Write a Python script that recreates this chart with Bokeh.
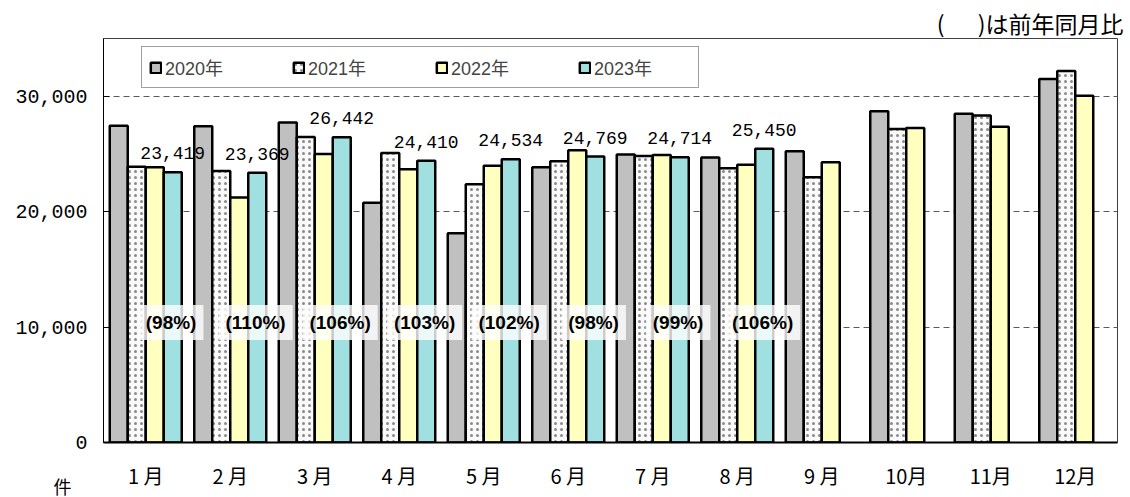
from bokeh.plotting import figure
from bokeh.models import (ColumnDataSource, FactorRange, Range1d, FixedTicker,
                          NumeralTickFormatter, LabelSet, Label, Legend, LegendItem, Title)
from bokeh.core.properties import value
from bokeh.transform import dodge
from bokeh.embed import file_html
from bokeh.resources import INLINE

# ---------------- data ----------------
months = ["1 月", "2 月", "3 月", "4 月", "5 月", "6 月", "7 月", "8 月", "9 月", "10月", "11月", "12月"]
v2020 = [27450, 27400, 27720, 20780, 18130, 23850, 24950, 24680, 25230, 28700, 28470, 31490]
v2021 = [23880, 23530, 26460, 25090, 22380, 24360, 24820, 23760, 22980, 27170, 28330, 32180]
v2022 = [23850, 21230, 25000, 23680, 23970, 25310, 24900, 24060, 24280, 27250, 27360, 30030]
v2023 = [23419, 23369, 26442, 24410, 24534, 24769, 24714, 25450]
yoy_pct = [98, 110, 106, 103, 102, 98, 99, 106]
series_names = ["2020年", "2021年", "2022年", "2023年"]
y_ticks = [0, 10000, 20000, 30000]

# ---------------- figure ----------------
p = figure(width=1130, height=497, x_range=FactorRange(*months, range_padding=0),
           y_range=Range1d(0, 35000), output_backend="svg", toolbar_location=None,
           min_border_left=103, min_border_right=13, min_border_top=38, min_border_bottom=55)
p.background_fill_color = "white"
p.border_fill_color = "white"
p.outline_line_color = "#404040"
p.outline_line_width = 1

bw = 0.213
offs = [-1.5 * bw, -0.5 * bw, 0.5 * bw, 1.5 * bw]

src = ColumnDataSource(dict(month=months, v2020=v2020, v2021=v2021, v2022=v2022))
src23 = ColumnDataSource(dict(month=months[:len(v2023)], v=v2023,
                              label=[f"{v:,}" for v in v2023]))

common = dict(width=bw, bottom=0, line_color="black", line_width=2.5)
r0 = p.vbar(x=dodge("month", offs[0], range=p.x_range), top="v2020", source=src,
            fill_color="#c0c0c0", **common)
r1 = p.vbar(x=dodge("month", offs[1], range=p.x_range), top="v2021", source=src,
            fill_color="#fafafa", hatch_pattern="dot", hatch_color="#8a8a8a",
            hatch_scale=6, hatch_weight=1.5, **common)
r2 = p.vbar(x=dodge("month", offs[2], range=p.x_range), top="v2022", source=src,
            fill_color="#ffffc0", **common)
r3 = p.vbar(x=dodge("month", offs[3], range=p.x_range), top="v", source=src23,
            fill_color="#a0e0e0", **common)

# ---------------- axes ----------------
p.xgrid.grid_line_color = None
p.ygrid.grid_line_color = "#5a5a5a"
p.ygrid.grid_line_dash = "6 4"
p.ygrid.grid_line_width = 1

p.yaxis.ticker = FixedTicker(ticks=y_ticks)
p.yaxis.formatter = NumeralTickFormatter(format="0,0")
p.yaxis.major_label_text_font = "Liberation Mono"
p.yaxis.major_label_text_font_size = "20px"
p.yaxis.major_label_text_color = "black"
p.yaxis.major_tick_in = 6
p.yaxis.major_tick_out = 0
p.yaxis.minor_tick_line_color = None
p.yaxis.axis_line_color = "black"
p.yaxis.major_tick_line_color = "black"
p.yaxis.major_label_standoff = 16

p.xaxis.major_label_text_font = "Noto Sans CJK JP"
p.xaxis.major_label_text_font_size = "20px"
p.xaxis.major_label_text_color = "black"
p.xaxis.major_tick_line_color = None
p.xaxis.axis_line_color = "black"
p.xaxis.axis_line_width = 2
p.xaxis.major_label_standoff = 12

# ---------------- labels ----------------
vals = LabelSet(x=dodge("month", offs[3], range=p.x_range), y="v", text="label", source=src23,
                text_align="center", text_baseline="alphabetic", y_offset=13,
                text_font=value("Liberation Mono"), text_font_size="18px", text_color="black")
p.add_layout(vals)

for i, pct in enumerate(yoy_pct):
    p.add_layout(Label(x=i + 0.5 + 0.3, y=10400, text=f"({pct}%)", text_align="center",
                       text_baseline="middle", text_font="Liberation Sans",
                       text_font_style="bold", text_font_size="19px", text_color="black",
                       background_fill_color="white", background_fill_alpha=0.8,
                       padding=7))

p.add_layout(Title(text="( 　 )は前年同月比", align="right", offset=-6, standoff=-2,
                   vertical_align="bottom", text_font="Noto Sans CJK JP",
                   text_font_size="23px", text_font_style="normal", text_color="black"), "above")
p.add_layout(Title(text="件", align="left", offset=-50, standoff=-40,
                   vertical_align="top", text_font="Noto Sans CJK JP",
                   text_font_size="18px", text_font_style="normal", text_color="black"), "below")

# ---------------- legend ----------------
legend = Legend(items=[LegendItem(label=n, renderers=[r]) for n, r in zip(series_names, [r0, r1, r2, r3])],
                orientation="horizontal", location=(38, 354),
                glyph_width=13, glyph_height=13, label_standoff=3, label_width=97,
                spacing=30, padding=7, label_height=16,
                label_text_font="Liberation Sans, Noto Sans CJK JP", label_text_font_size="18px",
                border_line_color="#404040", border_line_width=1,
                background_fill_color="white", background_fill_alpha=1)
p.add_layout(legend)

open("out.html", "w").write(file_html(p, INLINE))
